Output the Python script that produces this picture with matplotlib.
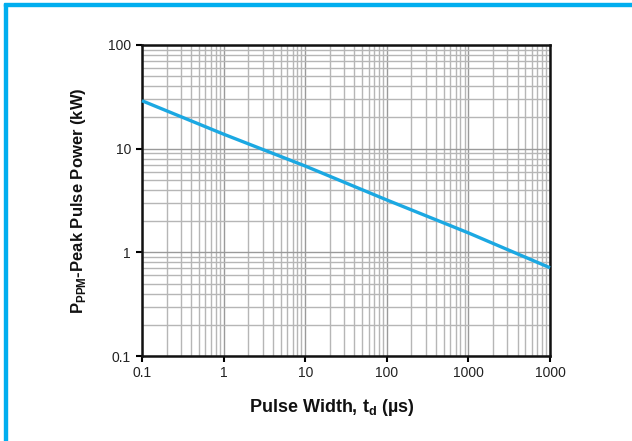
import matplotlib

matplotlib.use("Agg")

import matplotlib.pyplot as plt
from matplotlib.ticker import FixedLocator, FixedFormatter, LogLocator, NullFormatter
from matplotlib.patches import Rectangle

# data
pulse_width = [0.1, 1, 10, 100, 1000, 10000]
peak_power = [29, 13.8, 6.8, 3.2, 1.54, 0.71]

x_ticks = [0.1, 1, 10, 100, 1000, 10000]
x_tick_labels = ["0.1", "1", "10", "100", "1000", "1000"]
y_ticks = [0.1, 1, 10, 100]
y_tick_labels = ["0.1", "1", "10", "100"]

LINE_COLOR = "#1ba8e2"
BORDER_COLOR = "#00aeef"

plt.rcParams["font.family"] = ["Liberation Sans", "DejaVu Sans"]

fig = plt.figure(figsize=(6.32, 4.41), dpi=100)
ax = fig.add_axes([142 / 632, 1 - 356 / 441, 408 / 632, 311 / 441])

ax.set_xscale("log")
ax.set_yscale("log")
ax.set_xlim(0.1, 10000)
ax.set_ylim(0.1, 100)

ax.plot(pulse_width, peak_power, color=LINE_COLOR, linewidth=2.4,
        solid_capstyle="butt", zorder=3, clip_on=False)

ax.xaxis.set_major_locator(FixedLocator(x_ticks))
ax.xaxis.set_major_formatter(FixedFormatter(x_tick_labels))
ax.yaxis.set_major_locator(FixedLocator(y_ticks))
ax.yaxis.set_major_formatter(FixedFormatter(y_tick_labels))
for axis in (ax.xaxis, ax.yaxis):
    axis.set_minor_locator(LogLocator(base=10, subs=range(2, 10)))
    axis.set_minor_formatter(NullFormatter())

ax.grid(which="major", color="#9a9a9a", linewidth=1.0)
ax.grid(which="minor", color="#b6b6b6", linewidth=1.0)
ax.set_axisbelow(True)

ax.tick_params(which="major", direction="out", length=4, width=1.5,
               labelsize=10, pad=4, colors="black", labelcolor="#222222")
ax.tick_params(which="minor", length=0)
ax.tick_params(axis="x", pad=3)
for spine in ax.spines.values():
    spine.set_linewidth(1.8)
    spine.set_color("#111111")

fig.text(78 / 632, 1 - 201 / 441,
         r"P$_{\mathregular{PPM}}$-Peak Pulse Power (kW)",
         rotation=90, ha="center", va="center",
         fontsize=12, fontweight="bold", color="#111111")
fig.text(332 / 632, 1 - 408 / 441,
         r"Pulse Width, t$_{\mathregular{d}}$ (µs)",
         ha="center", va="center", fontsize=13, fontweight="bold",
         color="#111111")

# cyan frame on the top and left edges
fig.patches.append(Rectangle((4 / 632, 1 - 6 / 441), 1, 2.5 / 441,
                             transform=fig.transFigure, color=BORDER_COLOR,
                             zorder=5))
fig.patches.append(Rectangle((4 / 632, 0), 2.5 / 632, 1 - 3.5 / 441,
                             transform=fig.transFigure, color=BORDER_COLOR,
                             zorder=5))

fig.savefig("out.png", dpi=100)
